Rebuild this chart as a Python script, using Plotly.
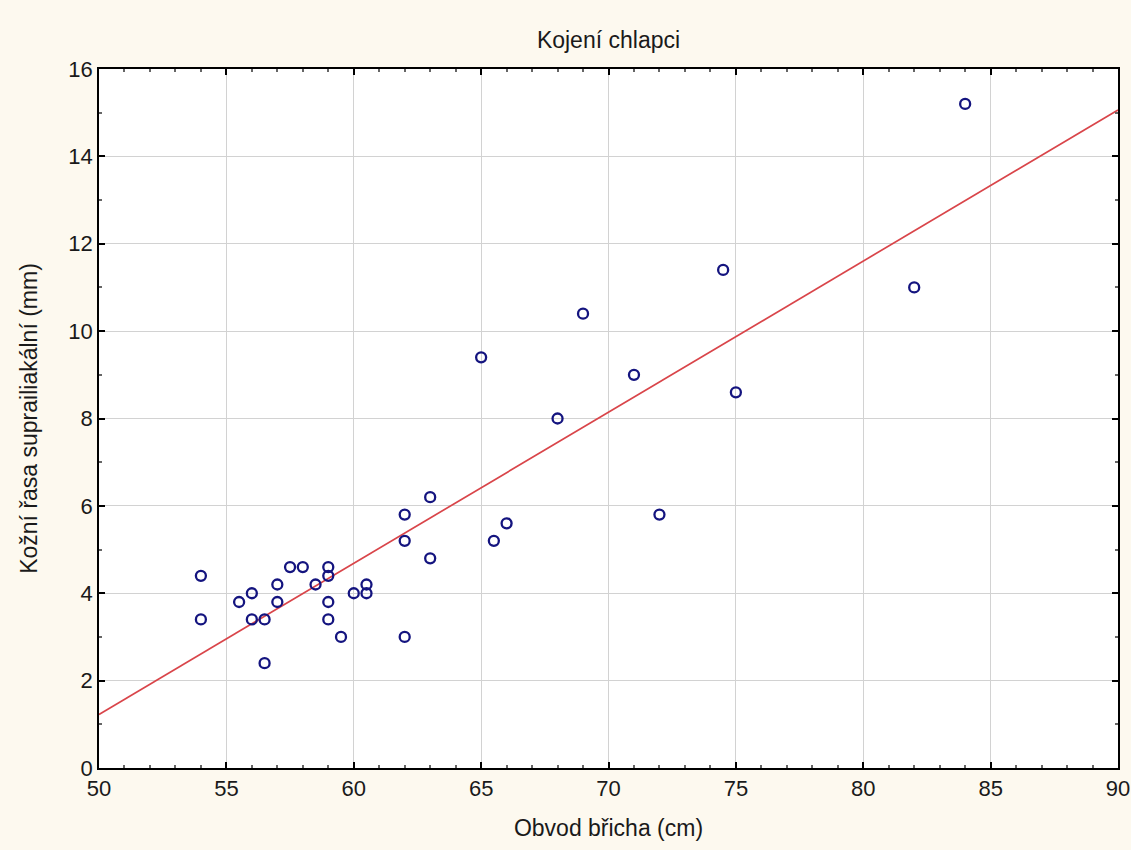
import numpy as np
import plotly.graph_objects as go

# Abdominal circumference (cm) and suprailiac skinfold (mm), breastfed boys
obvod_bricha = [54, 54, 55.5, 56, 56, 56.5, 56.5, 57, 57, 57.5, 58, 58.5,
                59, 59, 59, 59, 59.5, 60, 60.5, 60.5, 62, 62, 62, 63, 63,
                65, 65.5, 66, 68, 69, 71, 72, 74.5, 75, 82, 84]
kozni_rasa = [4.4, 3.4, 3.8, 4.0, 3.4, 3.4, 2.4, 4.2, 3.8, 4.6, 4.6, 4.2,
              4.6, 4.4, 3.8, 3.4, 3.0, 4.0, 4.2, 4.0, 5.8, 5.2, 3.0, 6.2, 4.8,
              9.4, 5.2, 5.6, 8.0, 10.4, 9.0, 5.8, 11.4, 8.6, 11.0, 15.2]

x_range = [50, 90]
y_range = [0, 16]
x_ticks = [50, 55, 60, 65, 70, 75, 80, 85, 90]
y_ticks = [0, 2, 4, 6, 8, 10, 12, 14, 16]

# least-squares line across the full x range
slope, intercept = np.polyfit(obvod_bricha, kozni_rasa, 1)
line_x = np.array(x_range, dtype=float)
line_y = intercept + slope * line_x

tick_font = dict(family="Liberation Sans, Arial", size=22, color="#1a1a1a")
label_font = dict(family="Liberation Sans, Arial", size=23, color="#1a1a1a")

fig = go.Figure()
fig.add_trace(go.Scatter(
    x=line_x, y=line_y, mode="lines",
    line=dict(color="#d9454a", width=1.7),
    hoverinfo="skip", showlegend=False,
))
fig.add_trace(go.Scatter(
    x=obvod_bricha, y=kozni_rasa, mode="markers",
    marker=dict(symbol="circle-open", size=10, color="#14147f",
                line=dict(width=2.3, color="#14147f")),
    showlegend=False,
))

axis_common = dict(
    showline=True, linecolor="#000000", linewidth=1.5, mirror="allticks",
    showgrid=True, gridcolor="#d2d2d2", gridwidth=1,
    zeroline=False, ticks="inside", ticklen=6, tickwidth=1.5, tickcolor="#000000",
    tickfont=tick_font, automargin=False,
    minor=dict(ticks="inside", ticklen=3, tickcolor="#666666", showgrid=False, dtick=1),
)

fig.update_layout(
    width=1131, height=850,
    paper_bgcolor="#fdf9ef", plot_bgcolor="#ffffff",
    margin=dict(l=99, r=13, t=69, b=82),
    title=dict(text="Kojení chlapci", x=0.538, xanchor="center",
               y=1 - 40 / 850, yanchor="middle",
               font=dict(family="Liberation Sans, Arial", size=23, color="#1a1a1a")),
    xaxis=dict(range=x_range, tickvals=x_ticks,
               title=dict(text="Obvod břicha (cm)", font=label_font, standoff=20),
               **axis_common),
    yaxis=dict(range=y_range, tickvals=y_ticks,
               title=dict(text="Kožní řasa suprailiakální (mm)", font=label_font, standoff=24),
               **axis_common),
)

fig.write_html("out.html")
